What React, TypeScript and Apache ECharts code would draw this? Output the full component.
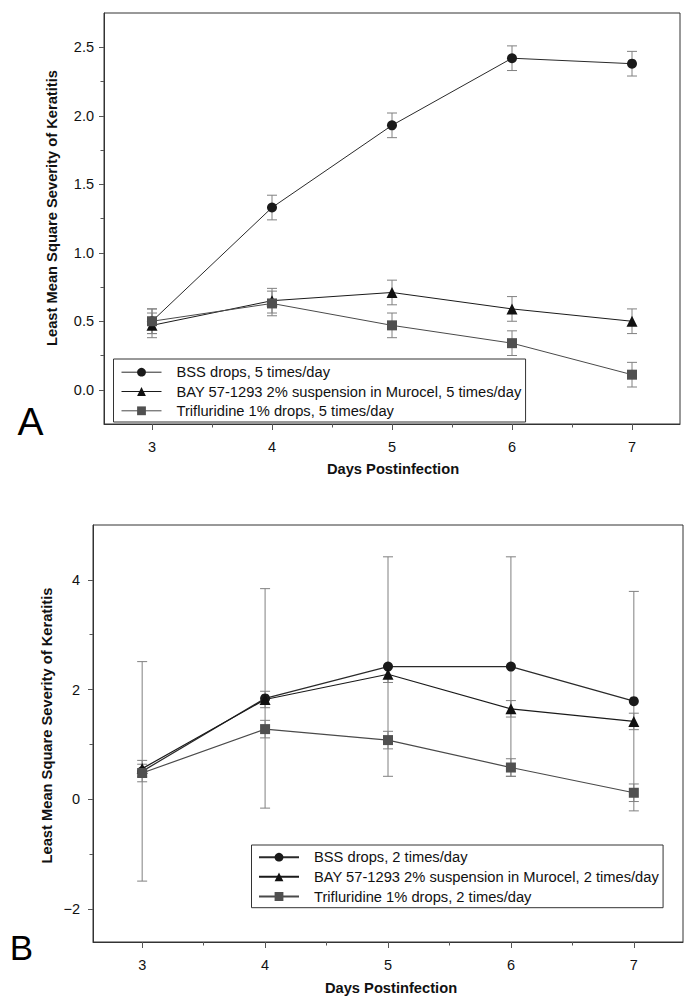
import React, { useEffect, useRef } from "react";
import * as echarts from "echarts";

const FONT = "'Liberation Sans', Arial, Helvetica, sans-serif";

// shared x axis
const days = [3, 4, 5, 6, 7];
const xTicks = [3, 4, 5, 6, 7];
const xMinorTicks = [3.5, 4.5, 5.5, 6.5];

// Panel A (5 times/day)
const aNames = [
  "BSS drops, 5 times/day",
  "BAY 57-1293 2% suspension in Murocel, 5 times/day",
  "Trifluridine 1% drops, 5 times/day",
];
const aBss = [0.5, 1.33, 1.93, 2.42, 2.38];
const aBssErr = [0.09, 0.09, 0.09, 0.09, 0.09];
const aBay = [0.47, 0.65, 0.71, 0.59, 0.5];
const aBayErr = [0.09, 0.09, 0.09, 0.09, 0.09];
const aTri = [0.5, 0.63, 0.47, 0.34, 0.11];
const aTriErr = [0.09, 0.09, 0.09, 0.09, 0.09];
const aYTicks = [0, 0.5, 1, 1.5, 2, 2.5];
const aYMinorTicks = [0.25, 0.75, 1.25, 1.75, 2.25];

// Panel B (2 times/day)
const bNames = [
  "BSS drops, 2 times/day",
  "BAY 57-1293 2% suspension in Murocel, 2 times/day",
  "Trifluridine 1% drops, 2 times/day",
];
const bBss = [0.51, 1.84, 2.42, 2.42, 1.79];
const bBssErr = [2.0, 2.0, 2.0, 2.0, 2.0];
const bBay = [0.56, 1.82, 2.28, 1.65, 1.42];
const bBayErr = [0.15, 0.15, 0.15, 0.15, 0.15];
const bTri = [0.48, 1.28, 1.08, 0.58, 0.12];
const bTriErr = [0.16, 0.16, 0.16, 0.16, 0.16];
const bYTicks = [-2, 0, 2, 4];
const bYMinorTicks = [-1, 1, 3];

const AXIS_COLOR = "#333";
const ERR_COLOR = "#808080";

function mainX(grid: number) {
  return {
    type: "value",
    gridIndex: grid,
    min: 2.6,
    max: 7.4,
    position: "bottom",
    axisLine: { show: true, onZero: false, lineStyle: { color: AXIS_COLOR, width: 1 } },
    axisTick: { show: true, customValues: xTicks, length: 6, lineStyle: { color: "#555" } },
    axisLabel: {
      show: true,
      customValues: xTicks,
      margin: 15,
      fontSize: 14.5,
      color: "#111",
      fontFamily: FONT,
    },
    splitLine: { show: false },
  };
}
function minorX(grid: number) {
  return {
    type: "value",
    gridIndex: grid,
    min: 2.6,
    max: 7.4,
    position: "bottom",
    axisLine: { show: false, onZero: false },
    axisTick: { show: true, customValues: xMinorTicks, length: 3.5, lineStyle: { color: "#555" } },
    axisLabel: { show: false },
    splitLine: { show: false },
  };
}
function mainY(grid: number, min: number, max: number, ticks: number[], margin: number, fmt: (v: number) => string) {
  return {
    type: "value",
    gridIndex: grid,
    min,
    max,
    position: "left",
    axisLine: { show: true, onZero: false, lineStyle: { color: AXIS_COLOR, width: 1 } },
    axisTick: { show: true, customValues: ticks, length: 5, lineStyle: { color: "#555" } },
    axisLabel: {
      show: true,
      customValues: ticks,
      margin,
      fontSize: 14.5,
      color: "#111",
      fontFamily: FONT,
      formatter: fmt,
    },
    splitLine: { show: false },
  };
}
function minorY(grid: number, min: number, max: number, ticks: number[]) {
  return {
    type: "value",
    gridIndex: grid,
    min,
    max,
    position: "left",
    axisLine: { show: false, onZero: false },
    axisTick: { show: true, customValues: ticks, length: 3.5, lineStyle: { color: "#555" } },
    axisLabel: { show: false },
    splitLine: { show: false },
  };
}

function errRender(params: any, api: any) {
  const x = api.value(0);
  const lo = api.value(1);
  const hi = api.value(2);
  const top = api.coord([x, hi]);
  const bot = api.coord([x, lo]);
  const hw = 5;
  const style = { stroke: ERR_COLOR, lineWidth: 1 };
  return {
    type: "group",
    children: [
      { type: "line", shape: { x1: top[0], y1: top[1], x2: bot[0], y2: bot[1] }, style },
      { type: "line", shape: { x1: top[0] - hw, y1: top[1], x2: top[0] + hw, y2: top[1] }, style },
      { type: "line", shape: { x1: bot[0] - hw, y1: bot[1], x2: bot[0] + hw, y2: bot[1] }, style },
    ],
  };
}

function errSeries(xi: number, yi: number, vals: number[], errs: number[]) {
  return {
    type: "custom",
    xAxisIndex: xi,
    yAxisIndex: yi,
    z: 2,
    silent: true,
    renderItem: errRender,
    encode: { x: 0, y: [1, 2] },
    data: days.map((d, i) => [d, vals[i] - errs[i], vals[i] + errs[i]]),
  };
}

const SYMBOLS = ["circle", "triangle", "rect"];
const SYM_SIZES = [10, 11, 10];
const MARK_COLORS = ["#1a1a1a", "#111111", "#505050"];
const LINE_COLORS = ["#2a2a2a", "#1a1a1a", "#4a4a4a"];

function lineSeries(xi: number, yi: number, k: number, name: string, vals: number[], lw: number) {
  return {
    type: "line",
    name,
    xAxisIndex: xi,
    yAxisIndex: yi,
    z: 3 + k,
    symbol: SYMBOLS[k],
    symbolSize: SYM_SIZES[k],
    showAllSymbol: true,
    lineStyle: { color: LINE_COLORS[k], width: lw },
    itemStyle: { color: MARK_COLORS[k] },
    emphasis: { disabled: true },
    data: days.map((d, i) => [d, vals[i]]),
  };
}

function legendCfg(names: string[], left: number, top: number, padding: number[], gap: number, lw: number) {
  return {
    data: names,
    orient: "vertical",
    left,
    top,
    padding,
    itemGap: gap,
    itemWidth: 40,
    itemHeight: 11,
    selectedMode: false,
    borderColor: "#333",
    borderWidth: 1,
    backgroundColor: "#fff",
    lineStyle: { width: lw },
    textStyle: {
      fontFamily: FONT,
      fontSize: 14.7,
      color: "#111",
      lineHeight: 14,
      padding: [0, 0, 0, 10],
    },
  };
}

function titleText(x: number, y: number, text: string, rotate: boolean) {
  return {
    type: "text",
    x,
    y,
    rotation: rotate ? Math.PI / 2 : 0,
    style: {
      text,
      fontFamily: FONT,
      fontWeight: "bold",
      fontSize: 14.7,
      fill: "#111",
      align: "center",
      verticalAlign: "middle",
    },
  };
}

export default function App() {
  const ref = useRef<HTMLDivElement>(null);
  useEffect(() => {
    if (!ref.current) return;
    const chart = echarts.init(ref.current, undefined, { renderer: "svg" });
    const fmtA = (v: number) => v.toFixed(1);
    const fmtB = (v: number) => (v < 0 ? "\u2212" + Math.abs(v) : String(v));
    chart.setOption({
      animation: false,
      backgroundColor: "#fff",
      grid: [
        { left: 104, top: 13, width: 576, height: 411, show: true, borderColor: AXIS_COLOR, borderWidth: 1, backgroundColor: "transparent" },
        { left: 93, top: 525, width: 590, height: 417, show: true, borderColor: AXIS_COLOR, borderWidth: 1, backgroundColor: "transparent" },
      ],
      xAxis: [mainX(0), minorX(0), mainX(1), minorX(1)],
      yAxis: [
        mainY(0, -0.25, 2.75, aYTicks, 10, fmtA),
        minorY(0, -0.25, 2.75, aYMinorTicks),
        mainY(1, -2.6, 5, bYTicks, 13, fmtB),
        minorY(1, -2.6, 5, bYMinorTicks),
      ],
      legend: [
        legendCfg(aNames, 113.5, 359, [5.7, 4, 3.7, 7.5], 4.3, 1),
        legendCfg(bNames, 251.5, 845, [4.7, 4, 3.7, 6.5], 4.65, 2),
      ],
      series: [
        errSeries(0, 0, aBss, aBssErr),
        errSeries(0, 0, aBay, aBayErr),
        errSeries(0, 0, aTri, aTriErr),
        lineSeries(0, 0, 0, aNames[0], aBss, 1),
        lineSeries(0, 0, 1, aNames[1], aBay, 1),
        lineSeries(0, 0, 2, aNames[2], aTri, 1),
        errSeries(2, 2, bBss, bBssErr),
        errSeries(2, 2, bBay, bBayErr),
        errSeries(2, 2, bTri, bTriErr),
        lineSeries(2, 2, 0, bNames[0], bBss, 1.2),
        lineSeries(2, 2, 1, bNames[1], bBay, 1.2),
        lineSeries(2, 2, 2, bNames[2], bTri, 1.2),
      ],
      graphic: [
        titleText(52, 208, "Least Mean Square Severity of Keratitis", true),
        titleText(393, 469, "Days Postinfection", false),
        titleText(47, 725.5, "Least Mean Square Severity of Keratitis", true),
        titleText(391, 988, "Days Postinfection", false),
        {
          type: "text",
          x: 30.5,
          y: 421,
          style: { text: "A", fontFamily: FONT, fontSize: 39, fill: "#000", align: "center", verticalAlign: "middle" },
        },
        {
          type: "text",
          x: 21.5,
          y: 947.5,
          style: { text: "B", fontFamily: FONT, fontSize: 35, fill: "#000", align: "center", verticalAlign: "middle" },
        },
      ],
    });
    return () => chart.dispose();
  }, []);
  return (
    <div
      ref={ref}
      style={{ position: "absolute", left: 0, top: 0, width: 694, height: 1004, background: "#fff" }}
    />
  );
}
